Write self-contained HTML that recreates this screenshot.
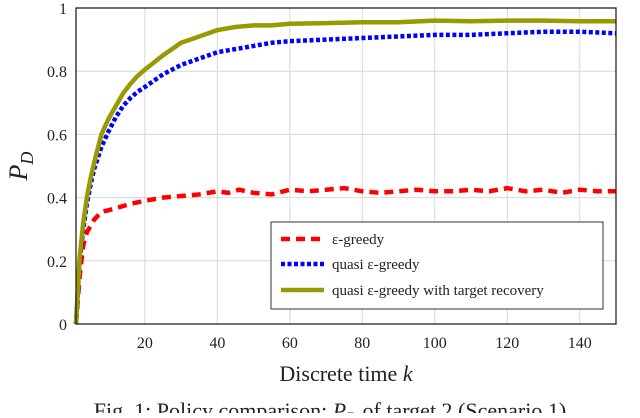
<!DOCTYPE html>
<html><head><meta charset="utf-8"><style>
body{margin:0;background:#fff;width:640px;height:413px;overflow:hidden}
text{font-family:"Liberation Serif",serif;fill:#222}
</style></head><body>
<svg id="chart" width="640" height="413" xmlns="http://www.w3.org/2000/svg"></svg>
<script>
const xTicks=[20,40,60,80,100,120,140];
const yTicks=[0,0.2,0.4,0.6,0.8,1];
const yTickLabels=["0","0.2","0.4","0.6","0.8","1"];
const kRed=[1,2,3,4,5,6,8,10,13,16,20,25,30,35,40,43,46,50,55,60,65,70,75,80,85,90,95,100,105,110,115,120,125,130,135,140,145,150];
const vRed=[0,0.15,0.25,0.29,0.31,0.33,0.355,0.36,0.37,0.38,0.39,0.40,0.405,0.41,0.42,0.415,0.425,0.415,0.41,0.425,0.42,0.425,0.43,0.42,0.415,0.42,0.425,0.42,0.42,0.425,0.42,0.43,0.42,0.425,0.415,0.425,0.42,0.42];
const kBlue=[1,2,3,4,5,6,8,10,12,14,16,18,20,25,30,35,40,45,50,55,60,70,80,90,100,110,120,130,140,150];
const vBlue=[0,0.2,0.3,0.38,0.44,0.49,0.56,0.61,0.655,0.69,0.715,0.735,0.75,0.79,0.82,0.84,0.86,0.87,0.88,0.89,0.895,0.9,0.905,0.91,0.915,0.915,0.92,0.925,0.925,0.92];
const kOlive=[1,2,3,4,5,6,8,10,12,14,16,18,20,25,30,35,40,45,50,55,60,70,80,90,100,110,120,130,140,150];
const vOlive=[0,0.21,0.32,0.4,0.46,0.51,0.6,0.65,0.69,0.73,0.76,0.785,0.805,0.85,0.89,0.91,0.93,0.94,0.945,0.945,0.95,0.952,0.955,0.955,0.96,0.958,0.96,0.96,0.958,0.958];

const NS="http://www.w3.org/2000/svg";
const svg=document.getElementById('chart');
const X0=76,X1=616,Y0=324,Y1=8,KMIN=1,KMAX=150;
const xs=k=>X0+(k-KMIN)/(KMAX-KMIN)*(X1-X0);
const ys=v=>Y0-v*(Y0-Y1);
function mk(tag,attrs,parent){const e=document.createElementNS(NS,tag);for(const a in attrs)e.setAttribute(a,attrs[a]);(parent||svg).appendChild(e);return e;}

const grid=mk('g',{});


xTicks.forEach(t=>{const l=mk('line',{x1:xs(t),x2:xs(t),y1:Y1,y2:Y0,stroke:'#d8d8d8','stroke-width':1},grid);


const tk=mk('text',{x:xs(t),y:348,'text-anchor':'middle','font-size':16},svg);tk.textContent=t;

});
yTicks.forEach((t,i)=>{if(t>0&&t<1){const l=mk('line',{x1:X0,x2:X1,y1:ys(t),y2:ys(t),stroke:'#d8d8d8','stroke-width':1},grid);

}
const tk=mk('text',{x:67,y:ys(t)+6,'text-anchor':'end','font-size':16},svg);tk.textContent=yTickLabels[i];

});

function series(ks,vs,stroke,w,dash,name){const p=mk('polyline',{points:ks.map((k,i)=>xs(k)+','+ys(vs[i])).join(' '),fill:'none',stroke:stroke,'stroke-width':w,'stroke-dasharray':dash,'stroke-linejoin':'round'});

}
series(kRed,vRed,'#ff0000',4.5,'9,6','series-epsilon-greedy');
series(kBlue,vBlue,'#0000ff',4.5,'4,2.5','series-quasi-epsilon-greedy');
series(kOlive,vOlive,'#999900',4.5,'none','series-quasi-with-recovery');

const frame=mk('rect',{x:X0,y:Y1,width:X1-X0,height:Y0-Y1,fill:'none',stroke:'#222','stroke-width':1.3});



const xl=mk('text',{x:346,y:381,'text-anchor':'middle','font-size':22});xl.innerHTML='Discrete time <tspan font-style="italic">k</tspan>';


const yl=mk('text',{x:0,y:0,'text-anchor':'middle','font-size':26,transform:'translate(27,166) rotate(-90)'});yl.innerHTML='<tspan font-style="italic">P</tspan><tspan font-style="italic" font-size="18" dy="6">D</tspan>';


const cap=mk('text',{x:330,y:418,'text-anchor':'middle','font-size':22});cap.innerHTML='Fig. 1: Policy comparison: <tspan font-style="italic">P</tspan><tspan font-style="italic" font-size="15" dy="4">D</tspan><tspan dy="-4"> of target 2 (Scenario 1)</tspan>';



const lg=mk('g',{});


mk('rect',{x:271,y:222,width:332,height:87,fill:'#fff',stroke:'#333','stroke-width':1},lg);
const entries=[['#ff0000','9,6','ε-greedy',239],['#0000ff','4,2.5','quasi ε-greedy',264],['#999900','none','quasi ε-greedy with target recovery',290]];
entries.forEach(e=>{const g=mk('g',{},lg);


mk('line',{x1:281,x2:324,y1:e[3],y2:e[3],stroke:e[0],'stroke-width':4.5,'stroke-dasharray':e[1]},g);
const t=mk('text',{x:332,y:e[3]+5,'font-size':15},g);t.textContent=e[2];});
</script>
</body></html>
